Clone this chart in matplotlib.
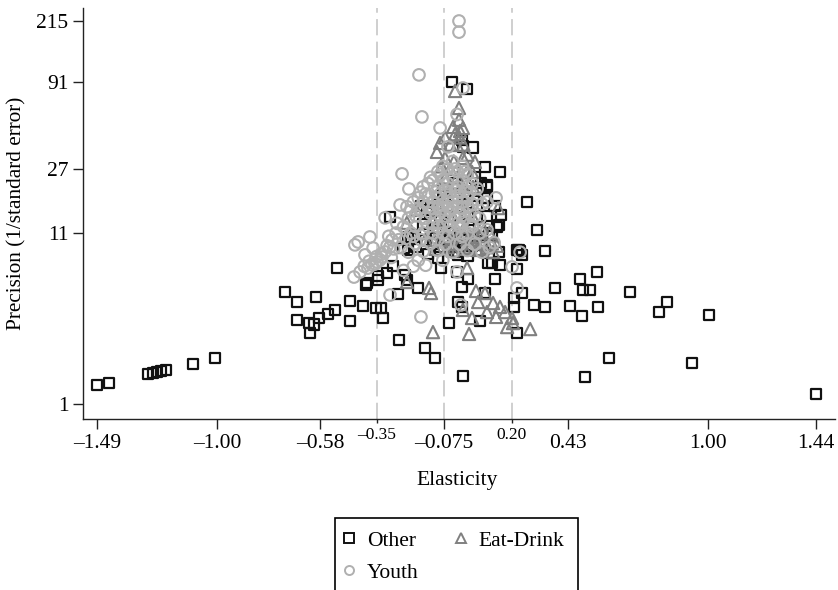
import matplotlib
matplotlib.use("Agg")
import matplotlib.pyplot as plt
from matplotlib.lines import Line2D
from matplotlib.ticker import NullLocator

plt.rcParams['font.family'] = ['Liberation Serif', 'DejaVu Serif']

x_ticks = [-1.49, -1.00, -0.58, -0.075, 0.43, 1.00, 1.44]
x_tick_labels = ['–1.49', '–1.00', '–0.58', '–0.075', '0.43', '1.00', '1.44']
small_ticks = [-0.35, 0.20]
small_tick_labels = ['–0.35', '0.20']
ref_lines = [-0.35, -0.075, 0.20]
y_ticks = [1, 11, 27, 91, 215]

other = [
 (-1.489,1.305),(-1.44,1.342),(-1.281,1.523),(-1.261,1.545),(-1.245,1.566),(-1.228,1.589),(-1.208,1.611),(-1.098,1.752),(-1.008,1.906),
 (-0.723,4.81),(-0.674,4.18),(-0.597,4.49),(-0.674,3.25),(-0.625,3.11),(-0.621,2.71),(-0.584,3.34),(-0.605,3.05),(-0.548,3.53),(-0.519,3.74),
 (-0.511,6.73),(-0.458,3.20),(-0.458,4.24),(-0.405,3.95),(-0.352,3.84),(-0.332,3.84),(-0.324,3.34),(-0.258,2.45),(-0.152,2.19),(-0.112,1.91),
 (0.002,1.48),(-0.055,3.11),(-0.018,4.18),(-0.002,3.90),(0.072,3.20),(0.092,4.74),(0.210,4.42),(0.243,4.74),(0.210,3.90),(0.292,4.01),(0.337,3.90),
 (0.222,2.71),(0.377,5.09),(0.479,5.78),(0.548,6.37),(0.491,4.95),(0.520,4.95),(0.438,3.95),(0.487,3.43),(0.553,3.90),(0.683,4.81),(0.801,3.63),
 (0.834,4.18),(1.005,3.48),(0.500,1.46),(0.597,1.91),(0.936,1.78),(1.441,1.15),(0.263,17.0),(0.304,11.5),(0.337,8.55),(0.222,8.67),(0.235,8.55),
 (0.228,8.7),(0.243,8.09),(0.222,6.64),(0.153,7.03),(0.121,7.24),(0.104,7.24),(0.133,5.78),(0.023,5.78),(-0.002,5.16),(-0.022,6.37),(-0.087,6.73),
 (-0.181,5.09),(-0.226,5.69),(-0.262,4.68),(-0.283,6.92),(-0.307,6.28),(-0.344,6.03),(-0.344,5.69),(-0.393,5.31),(-0.389,5.46),(-0.295,13.8),
 (-0.042,91.5),(0.019,83),(0.043,36.4),(0.092,27.8),(0.153,25.9),(0.076,22.2),(0.100,21.0),(0.100,21.6),(-0.002,40.6),(0.002,36.9),
 (-0.222,8.67),(-0.193,10.7),(-0.222,10.4),(-0.144,15.2),(-0.091,8.67),(-0.063,9.98),(0.084,9.31),(0.108,10.9),(0.149,12.3),(0.157,14.2),
 (0.100,18.0),(-0.100,7.8),(-0.018,8.1),(0.149,8.4),(-0.234,6.1),
 (-0.24,8.9),(-0.21,10.2),(-0.19,9.0),(-0.16,12.5),(-0.15,10.0),(-0.13,14.5),(-0.12,9.5),(-0.11,11.8),(-0.10,16.5),(-0.09,13.0),(-0.08,10.2),
 (-0.07,18.5),(-0.06,14.0),(-0.05,11.0),(-0.04,9.0),(-0.03,22.0),(-0.02,16.0),(-0.01,12.5),(0.0,10.0),(0.01,19.0),(0.02,14.5),(0.03,11.5),(0.04,9.2),
 (0.05,24.0),(0.06,16.0),(0.07,12.0),(0.08,9.8),(0.09,18.0),(0.10,14.0),(0.12,10.5),(0.13,16.0),(0.14,12.0),(-0.03,8.5),(0.02,8.0),(-0.14,8.2),
 (0.06,20.0),(-0.08,20.0),(-0.17,16.0),
]

eat_drink = [
 (-0.014,63.5),(-0.030,80.6),(-0.014,53.8),(-0.038,48.7),(0.002,48.0),(-0.071,42.0),(-0.091,38.9),(-0.104,34.3),(-0.022,37.8),(-0.071,31.5),(0.002,31.5),
 (0.051,29.8),(0.039,25.9),(0.043,21.0),(-0.189,15.2),(-0.226,12.7),(-0.226,5.53),(-0.136,5.09),(-0.128,4.74),(0.055,4.88),(0.092,4.74),(0.064,4.18),
 (0.125,4.12),(0.153,3.90),(0.174,3.63),(0.100,3.63),(0.137,3.39),(0.039,3.34),(0.002,3.74),(0.202,3.34),(0.206,3.11),(0.182,2.94),(0.276,2.86),
 (-0.120,2.74),(0.027,2.67),(0.019,6.73),(0.059,8.67),(0.125,8.43),(0.145,15.6),
 (-0.15,10.0),(-0.12,13.0),(-0.10,16.0),(-0.08,12.0),(-0.06,9.0),(-0.05,20.0),(-0.04,14.0),(-0.03,11.0),(-0.01,9.5),(0.0,16.0),(0.01,12.0),(0.02,10.0),
 (0.03,9.0),(0.04,14.0),(0.05,11.0),(0.06,9.5),(0.08,12.0),(0.09,10.0),(0.10,9.0),(-0.02,24.0),(0.0,21.0),(-0.05,27.0),
 (-0.030,44.0),(-0.010,46.0),(-0.050,38.0),(-0.012,42.0),(0.004,38.0),(-0.085,28.0),(-0.035,30.0),(0.020,33.0),(-0.070,24.0),(0.020,26.0),
 (-0.13,11.0),(-0.09,10.0),(-0.07,10.5),(-0.045,9.4),(-0.02,10.5),(0.015,11.0),(0.035,10.0),(0.07,10.5),(0.11,11.0),(0.12,9.5),(-0.11,8.8),
 (-0.04,8.6),(0.01,8.8),(0.07,8.8),(0.14,9.2),
]

youth = [
 (-0.014,215),(-0.014,184),(-0.177,101),(-0.165,56),(-0.091,48),(0.002,84),(-0.022,58),(-0.246,25.2),(-0.218,20.4),(-0.059,36.8),(0.137,18.0),
 (-0.438,9.31),(-0.425,9.7),(-0.377,10.4),(-0.364,8.9),(-0.397,8.09),(-0.442,5.93),(-0.417,6.37),(-0.385,6.73),(-0.368,7.03),(-0.348,7.33),(-0.328,7.85),
 (-0.315,8.43),(-0.295,9.05),(-0.287,9.98),(-0.307,9.2),(-0.336,7.54),(-0.356,7.13),(-0.315,13.6),(-0.267,12.6),(-0.254,16.3),(-0.226,15.9),(-0.295,4.61),
 (-0.169,3.39),(-0.022,6.37),(-0.006,4.01),(0.222,5.09),(0.202,6.83),(0.129,9.6),(0.235,8.4),
 (-0.10,26),(-0.08,28),(-0.06,27),(-0.04,30),(-0.02,26),(0.0,28),(0.02,25),
 (-0.16,21),(-0.14,22),(-0.12,23),(-0.10,21),(-0.08,23),(-0.06,22),(-0.04,24),(-0.02,21),(0.0,23),(0.02,21),(0.04,22),(0.06,20.5),
 (-0.20,17),(-0.18,18),(-0.16,17),(-0.14,18.5),(-0.12,17),(-0.10,18),(-0.08,16.5),(-0.06,18),(-0.04,17),(-0.02,18.5),(0.0,17),(0.02,18),(0.04,16.5),(0.06,17.5),(0.08,16.5),(0.10,17),
 (-0.22,13.5),(-0.19,14),(-0.17,15),(-0.15,13.5),(-0.13,14.5),(-0.11,13.5),(-0.09,15),(-0.07,14),(-0.05,15),(-0.03,13.5),(-0.01,14.5),(0.01,13.5),(0.03,15),(0.05,14),(0.07,13.5),
 (-0.27,11),(-0.24,12),(-0.21,11),(-0.19,12),(-0.16,11),(-0.14,12),(-0.12,11),(-0.10,12),(-0.08,11),(-0.05,12),(-0.03,11),(-0.01,12),(0.02,11),(0.04,12),(0.07,11),(0.10,11.5),
 (-0.25,9),(-0.22,8.4),(-0.19,9.5),(-0.16,8.5),(-0.13,9.5),(-0.10,8.6),(-0.07,9.4),(-0.04,8.4),(-0.01,9.4),(0.02,8.6),(0.05,9.4),(0.08,8.4),(0.11,9),
 (-0.24,6.5),(-0.20,6.9),(-0.18,7.5),(-0.15,7),(-0.08,7.5),
 (-0.13,24),(-0.11,19.5),(-0.09,19),(-0.07,20),(-0.05,19.5),(-0.03,20),(-0.01,19.5),(0.01,20),(0.03,19.5),(-0.15,19),(-0.17,19.5),(-0.09,25),(-0.03,27),(0.01,26),
 (-0.12,15.5),(-0.10,16),(-0.08,15.5),(-0.06,16),(-0.04,15.5),(-0.02,16),(0.0,15.5),(0.02,16),(-0.14,16),(-0.18,15.5),(-0.21,15),
 (-0.30,10.5),(-0.26,10),(-0.23,10.2),(-0.20,10.5),(-0.17,10),(-0.12,12.5),(-0.08,12.5),(-0.06,13),(-0.02,12.5),(0.0,12.8),(0.03,12.5),(-0.10,10),(-0.06,10.5),(0.0,10.5),
 (-0.28,8.8),(-0.33,8.2),(-0.35,7.9),(-0.38,7.4),(-0.40,6.9),(-0.29,7.8),
]

W, H = 838, 590
fig = plt.figure(figsize=(W/100, H/100), dpi=100)
ax = fig.add_axes([83/W, (H-419)/H, (835-83)/W, (419-8)/H])
ax.set_xlim(-1.546, 1.518)
ax.set_yscale('log')
ax.set_ylim(0.81, 258)

for v in ref_lines:
    ax.axvline(v, color='#cccccc', lw=1.3, dashes=(9, 3.5), zorder=1)

def scatter(points, marker, edge, s, lw, z):
    xs, ys = zip(*points)
    ax.scatter(xs, ys, marker=marker, s=s, facecolors='none', edgecolors=edge, linewidths=lw, zorder=z, clip_on=False)

scatter(other, 's', '#111111', 56, 1.6, 3)
scatter(eat_drink, '^', '#808080', 78, 1.5, 4)
scatter(youth, 'o', '#b0b0b0', 70, 1.5, 5)

for s in ('top', 'right'):
    ax.spines[s].set_visible(False)
for s in ('left', 'bottom'):
    ax.spines[s].set_linewidth(1.0)
    ax.spines[s].set_color('#222222')

ax.set_xticks(x_ticks)
ax.set_xticklabels(x_tick_labels)
ax.set_xticks(small_ticks, minor=True)
ax.set_xticklabels(small_tick_labels, minor=True)
ax.set_yticks(y_ticks)
ax.set_yticklabels([str(v) for v in y_ticks])
ax.yaxis.set_minor_locator(NullLocator())
ax.tick_params(axis='both', which='major', length=7.5, width=1.0, color='#222222', labelsize=15.5, pad=3)
ax.tick_params(axis='x', which='minor', length=3, width=1.0, color='#222222', labelsize=12.5, pad=3)

fig.text(457/W, 1-480/H, 'Elasticity', ha='center', va='center', fontsize=15.5)
fig.text(17/W, 1-213/H, 'Precision (1/standard error)', rotation=90, ha='center', va='center', fontsize=15.3)

handles = [
    Line2D([], [], ls='', marker='s', ms=6.5, mfc='none', mec='#111111', mew=1.4),
    Line2D([], [], ls='', marker='o', ms=6.5, mfc='none', mec='#b0b0b0', mew=1.4),
    Line2D([], [], ls='', marker='^', ms=7.5, mfc='none', mec='#808080', mew=1.4),
]
leg = fig.legend(handles, ['Other', 'Youth', 'Eat-Drink'], ncol=2, loc='upper left',
                 bbox_to_anchor=(335/W, 1-518/H), borderaxespad=0, fontsize=15.5,
                 fancybox=False, edgecolor='black', framealpha=1,
                 handlelength=0.1, handletextpad=0.79, columnspacing=1.9,
                 labelspacing=0.55, borderpad=0.6)
leg.get_frame().set_linewidth(1.2)

fig.savefig('out.png', dpi=100)
